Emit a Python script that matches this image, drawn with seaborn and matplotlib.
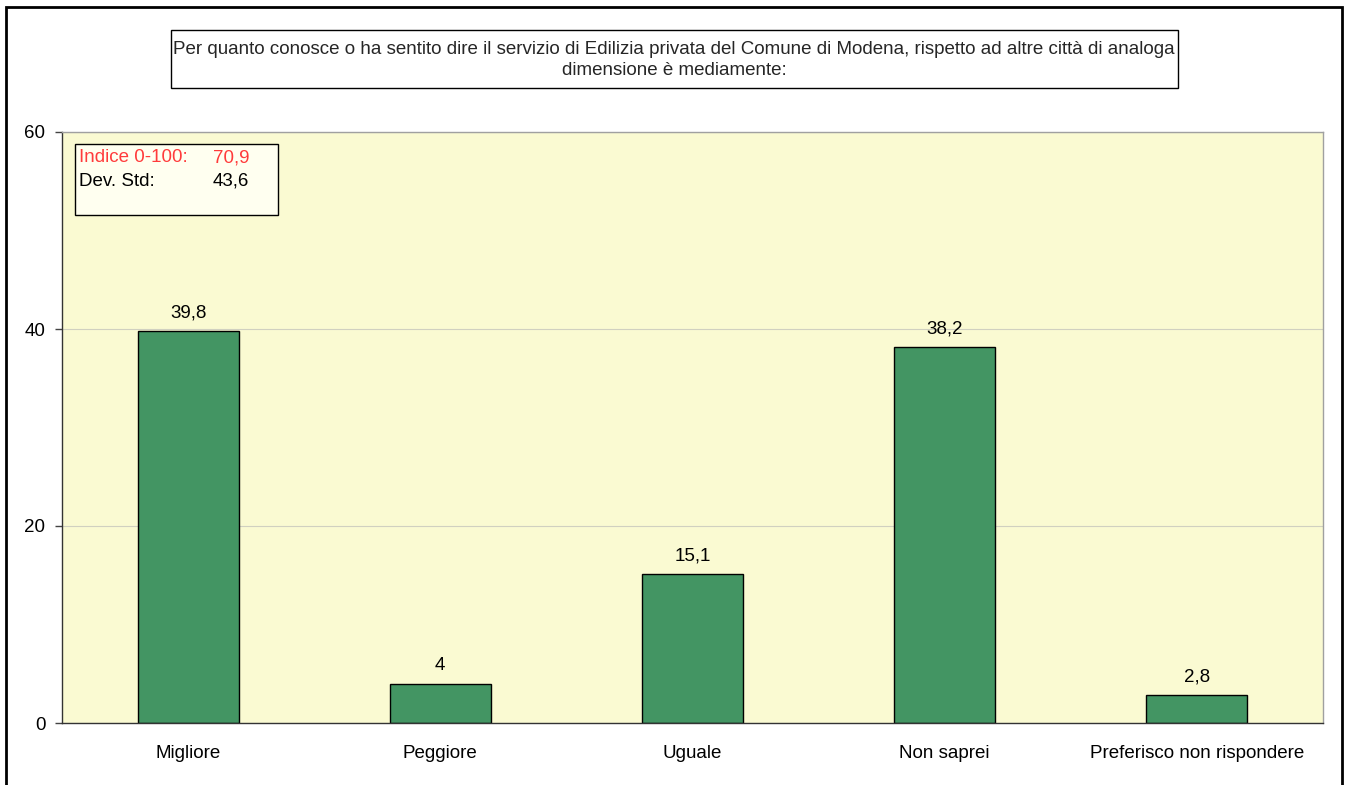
import matplotlib
matplotlib.use("Agg")
import matplotlib.pyplot as plt
import seaborn as sns
import pandas as pd
from matplotlib.patches import Rectangle
from matplotlib.ticker import FixedLocator

categories = ["Migliore", "Peggiore", "Uguale", "Non saprei", "Preferisco non rispondere"]
values = [39.8, 4, 15.1, 38.2, 2.8]
value_labels = ["39,8", "4", "15,1", "38,2", "2,8"]
yticks = [0, 20, 40, 60]
title = ("Per quanto conosce o ha sentito dire il servizio di Edilizia privata del Comune di Modena, rispetto ad altre città di analoga\n"
         "dimensione è mediamente:")
index_label, index_value = "Indice 0-100:", "70,9"
std_label, std_value = "Dev. Std:", "43,6"

FS = 13.5

sns.set_theme(style="white")
plt.rcParams['font.family'] = ['Liberation Sans', 'DejaVu Sans']

fig = plt.figure(figsize=(13.48, 7.85), dpi=100)
ax = fig.add_axes([62/1348, 1-723/785, (1323-62)/1348, (723-132)/785])
ax.set_facecolor("#FAFAD2")

df = pd.DataFrame({"cat": categories, "val": values})
sns.barplot(data=df, x="cat", y="val", ax=ax, color="#439563", width=0.4,
            edgecolor="black", linewidth=1.0, saturation=1)

ax.set_xlim(-0.5, len(categories) - 0.5)
ax.set_ylim(0, 60)
ax.set_yticks(yticks)
ax.set_yticklabels([str(t) for t in yticks], fontsize=FS, color="black")
ax.yaxis.grid(True, color="#D0D0C0", linewidth=0.8)
ax.set_axisbelow(True)
ax.set_xlabel("")
ax.set_ylabel("")
ax.set_xticks(range(len(categories)))
ax.set_xticklabels(categories, fontsize=FS, color="black")
ax.tick_params(axis="x", length=0, pad=16)
ax.xaxis.set_minor_locator(FixedLocator([i - 0.5 for i in range(len(categories) + 1)]))
ax.tick_params(axis="x", which="minor", length=5, color="#444444", width=1, direction="out")
ax.tick_params(axis="y", length=5, color="#444444", width=1, direction="out", pad=7, left=True)

for s in ["left", "bottom"]:
    ax.spines[s].set_color("#333333")
    ax.spines[s].set_linewidth(1.0)
for s in ["top", "right"]:
    ax.spines[s].set_color("#A0A0A0")
    ax.spines[s].set_linewidth(1.0)

for i, (v, lab) in enumerate(zip(values, value_labels)):
    ax.annotate(lab, (i, v), xytext=(0, 7), textcoords="offset points",
                ha="center", va="bottom", fontsize=FS, color="black")

# Title box
fig.patches.append(Rectangle((171/1348, 1-88/785), (1178-171)/1348, (88-30)/785,
                             transform=fig.transFigure, facecolor="white",
                             edgecolor="black", linewidth=1.0, zorder=5))
fig.text(674/1348, 1-60/785, title, ha="center", va="center", fontsize=FS,
         linespacing=1.35, zorder=6)

# Stats box
fig.patches.append(Rectangle((75/1348, 1-215/785), (278-75)/1348, (215-144)/785,
                             transform=fig.transFigure, facecolor="#FFFFF0",
                             edgecolor="black", linewidth=1.0, zorder=5))
fig.text(79/1348, 1-158/785, index_label, color="#FF3B3B", fontsize=FS, va="center", ha="left", zorder=6)
fig.text(249/1348, 1-158/785, index_value, color="#FF3B3B", fontsize=FS, va="center", ha="right", zorder=6)
fig.text(79/1348, 1-181/785, std_label, color="black", fontsize=FS, va="center", ha="left", zorder=6)
fig.text(249/1348, 1-181/785, std_value, color="black", fontsize=FS, va="center", ha="right", zorder=6)

# Figure border
fig.patches.append(Rectangle((6/1348, -0.05), (1342-6)/1348, 1.05 - 7/785,
                             transform=fig.transFigure, facecolor="none",
                             edgecolor="black", linewidth=2.0, zorder=10))

fig.savefig("out.png", dpi=100)
